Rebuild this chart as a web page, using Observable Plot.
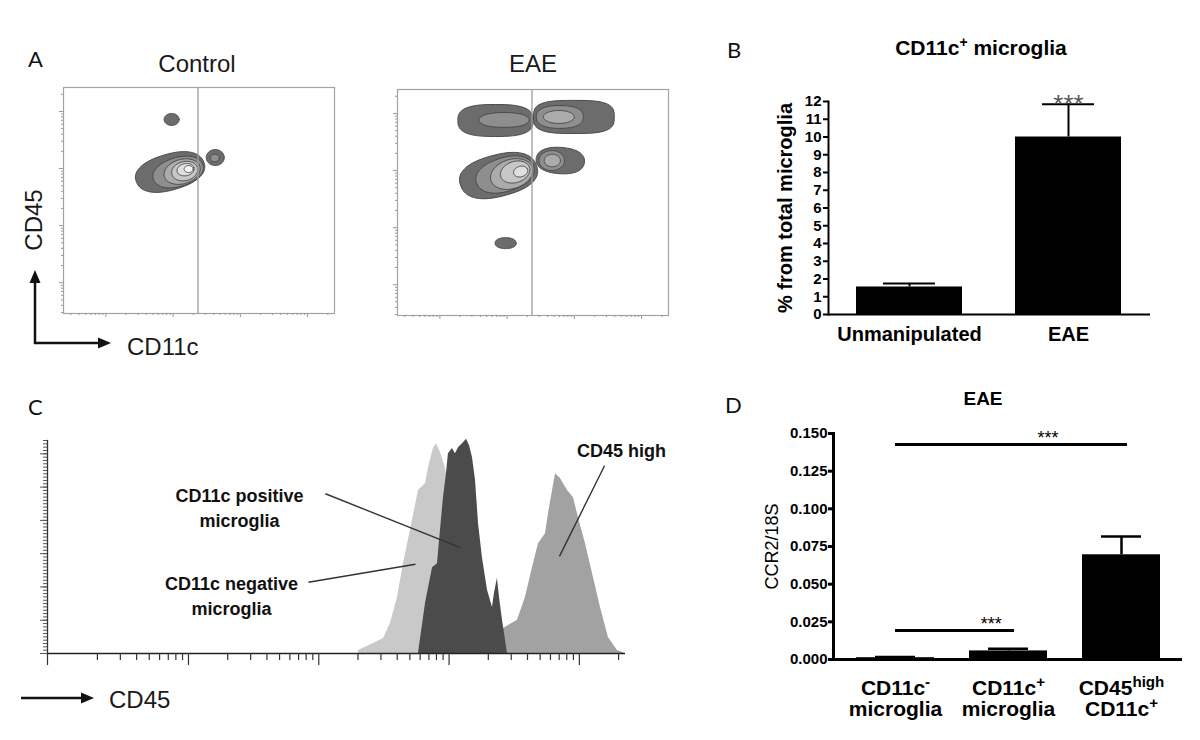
<!DOCTYPE html>
<html>
<head>
<meta charset="utf-8">
<script src="https://cdn.jsdelivr.net/npm/d3@7"></script>
<script src="https://cdn.jsdelivr.net/npm/@observablehq/plot@0.6"></script>
<style>
  body { margin: 0; background: #fff; }
  #fig { position: relative; width: 1200px; height: 740px; overflow: hidden; background: #fff; }
  .panel { position: absolute; }
  .panel svg { display: block; overflow: visible; }
  #overlay { position: absolute; left: 0; top: 0; }
</style>
</head>
<body>
<div id="fig">
  <svg id="overlay" width="1200" height="740" font-family="'Liberation Sans', Arial, sans-serif">
    <g font-family="Lato, 'Open Sans', sans-serif" font-size="22" fill="#111">
      <text x="28" y="67">A</text>
      <text x="727" y="58">B</text>
      <text x="28" y="415">C</text>
      <text x="725" y="413">D</text>
    </g>
    <g font-size="24" fill="#1a1a1a">
      <text x="197" y="72" text-anchor="middle">Control</text>
      <text x="533" y="72" text-anchor="middle">EAE</text>
      <text transform="translate(42,220) rotate(-90)" text-anchor="middle">CD45</text>
      <text x="127" y="355">CD11c</text>
      <text x="109" y="708">CD45</text>
    </g>
    <g stroke="#111" stroke-width="2.5" fill="#111">
      <line x1="35" y1="344" x2="35" y2="281"/>
      <polygon points="35,270 29.5,283 40.5,283" stroke="none"/>
      <line x1="34" y1="343" x2="99" y2="343"/>
      <polygon points="111,343 98,337.5 98,348.5" stroke="none"/>
      <line x1="21" y1="698" x2="82" y2="698"/>
      <polygon points="94,698 81,692.5 81,703.5" stroke="none"/>
    </g>
    <text x="981" y="55" text-anchor="middle" font-size="21" font-weight="bold">CD11c<tspan baseline-shift="super" font-size="14">+</tspan> microglia</text>
    <text x="983" y="405" text-anchor="middle" font-size="19" font-weight="bold">EAE</text>
  </svg>
  <div class="panel" id="pA1" style="left:50px;top:80px"></div>
  <div class="panel" id="pA2" style="left:384px;top:82px"></div>
  <div class="panel" id="pB" style="left:720px;top:85px"></div>
  <div class="panel" id="pC" style="left:0px;top:420px"></div>
  <div class="panel" id="pD" style="left:720px;top:420px"></div>
</div>
<script>
// ================= DATA =================
// Panel A: flow cytometry contour populations (axes in log10 fluorescence units)
const aXDomain = [0.37, 4.40];           // CD11c, log10 units
const aYDomain = [0.46, 4.42];           // CD45, log10 units
const aDecades = [1, 2, 3, 4];
const gateCD11c = 2.37;                  // vertical gate position (log10)
const contourLevels = [1, 2, 3, 4, 5, 6];

// p = superellipse exponent (2 = ellipse, larger = boxier)
const controlContours = [
  {pop: "upper", level: 1, cx: 1.978, cy: 3.860, rx: 0.112, ry: 0.105, angle: 0,  p: 2},
  {pop: "main",  level: 1, cx: 1.955, cy: 2.939, rx: 0.53,  ry: 0.31,  angle: 20, p: 2.3},
  {pop: "main",  level: 2, cx: 2.075, cy: 2.939, rx: 0.39,  ry: 0.25,  angle: 22, p: 2.1},
  {pop: "main",  level: 3, cx: 2.134, cy: 2.947, rx: 0.28,  ry: 0.21,  angle: 25, p: 2},
  {pop: "main",  level: 4, cx: 2.172, cy: 2.955, rx: 0.20,  ry: 0.165, angle: 25, p: 2},
  {pop: "main",  level: 5, cx: 2.185, cy: 2.980, rx: 0.13,  ry: 0.105, angle: 20, p: 2},
  {pop: "main",  level: 6, cx: 2.231, cy: 2.991, rx: 0.067, ry: 0.061, angle: 0,  p: 2},
  {pop: "sat",   level: 1, cx: 2.627, cy: 3.193, rx: 0.134, ry: 0.14,  angle: 0,  p: 2},
  {pop: "sat",   level: 2, cx: 2.620, cy: 3.185, rx: 0.067, ry: 0.065, angle: 0,  p: 2}
];

const eaeContours = [
  {pop: "topL",  level: 1, cx: 1.828, cy: 3.877, rx: 0.56,  ry: 0.28,  angle: 0,  p: 2.8},
  {pop: "topL",  level: 2, cx: 1.955, cy: 3.886, rx: 0.373, ry: 0.13,  angle: 0,  p: 2.2},
  {pop: "topR",  level: 1, cx: 2.993, cy: 3.939, rx: 0.60,  ry: 0.29,  angle: 0,  p: 3.2},
  {pop: "topR",  level: 2, cx: 2.784, cy: 3.939, rx: 0.35,  ry: 0.20,  angle: 0,  p: 2.4},
  {pop: "topR",  level: 3, cx: 2.769, cy: 3.939, rx: 0.23,  ry: 0.114, angle: 0,  p: 2},
  {pop: "mid",   level: 1, cx: 1.873, cy: 2.912, rx: 0.59,  ry: 0.36,  angle: 18, p: 2.4},
  {pop: "mid",   level: 2, cx: 1.970, cy: 2.930, rx: 0.45,  ry: 0.29,  angle: 22, p: 2.2},
  {pop: "mid",   level: 3, cx: 2.067, cy: 2.939, rx: 0.33,  ry: 0.25,  angle: 28, p: 2},
  {pop: "mid",   level: 4, cx: 2.119, cy: 2.974, rx: 0.23,  ry: 0.18,  angle: 30, p: 2},
  {pop: "mid",   level: 5, cx: 2.201, cy: 2.982, rx: 0.11,  ry: 0.09,  angle: 30, p: 2},
  {pop: "midR",  level: 1, cx: 2.791, cy: 3.175, rx: 0.36,  ry: 0.23,  angle: -5, p: 2.3},
  {pop: "midR",  level: 2, cx: 2.664, cy: 3.175, rx: 0.19,  ry: 0.175, angle: 0,  p: 2},
  {pop: "midR",  level: 3, cx: 2.672, cy: 3.175, rx: 0.12,  ry: 0.11,  angle: 0,  p: 2},
  {pop: "low",   level: 1, cx: 1.978, cy: 1.728, rx: 0.157, ry: 0.096, angle: 0,  p: 2.2}
];

// Panel B: CD11c+ microglia (% from total microglia)
const bCategories = ["Unmanipulated", "EAE"];
const bMeans = [1.55, 10.0];
const bErrorTop = [1.75, 11.85];
const bSignificance = ["", "***"];
const bTicks = [0, 1, 2, 3, 4, 5, 6, 7, 8, 9, 10, 11, 12];
const bYLabel = "% from total microglia";

// Panel C: CD45 histograms (x in log10 CD45, y counts)
const cXDomain = [-0.082, 4.354];
const cYDomain = [0, 320];
const cDecades = [0, 1, 2, 3, 4];
const cNegX     = [2.305, 2.305, 2.420, 2.497, 2.550, 2.604, 2.650, 2.704, 2.765, 2.819, 2.842, 2.880, 2.903, 2.934, 2.972, 3.011, 3.072, 3.134, 3.203, 3.279];
const cNegCount = [0,     4.5,   15,    22.5,  45,    84,    135,   185,   245,   255,   279,   308,   315,   302,   279,   230,   140,   65,    20,    0];
const cPosX     = [2.765, 2.819, 2.873, 2.911, 2.934, 2.957, 2.980, 2.995, 3.026, 3.049, 3.072, 3.103, 3.134, 3.157, 3.180, 3.203, 3.226, 3.256, 3.295, 3.333, 3.348, 3.371, 3.387, 3.410, 3.448];
const cPosCount = [0,     75,    129,   135,   185,   234,   270,   300,   308,   300,   309,   315,   322,   312,   294,   260,   195,   144,   95,    69,    90,    113,   84,    50,    0];
const cHighX     = [3.318, 3.395, 3.456, 3.525, 3.586, 3.640, 3.686, 3.740, 3.763, 3.794, 3.817, 3.855, 3.909, 3.955, 3.993, 4.047, 4.108, 4.162, 4.223, 4.292, 4.354];
const cHighCount = [0,     35,    42,    50,    84,    129,   165,   180,   210,   245,   270,   263,   245,   234,   204,   165,   114,   69,    24,    4.5,   0];
const cLabelText = ["CD11c positive\nmicroglia", "CD11c negative\nmicroglia", "CD45 high"];
const cLabelX = [1.391, 1.330, 4.323];
const cLabelY = [221.5, 88, 308];
const cPointerX1 = [2.051, 1.921, 4.193];
const cPointerY1 = [240, 107, 282];
const cPointerX2 = [3.087, 2.742, 3.847];
const cPointerY2 = [159, 134, 146];

// Panel D: CCR2/18S in EAE
const dCategories = ["CD11c- microglia", "CD11c+ microglia", "CD45high CD11c+"];
const dTickLabels = ["CD11c^-\nmicroglia", "CD11c^+\nmicroglia", "CD45^high\nCD11c^+"];
const dMeans = [0.0012, 0.0057, 0.0695];
const dErrorTop = [0.0017, 0.0071, 0.0816];
const dTicks = [0, 0.025, 0.05, 0.075, 0.1, 0.125, 0.15];
const dSigFrom = ["CD11c- microglia", "CD11c- microglia"];
const dSigTo = ["CD45high CD11c+", "CD11c+ microglia"];
const dSigY = [0.1427, 0.0192];
const dSigLabel = ["***", "***"];
const dYLabel = "CCR2/18S";

// ================= HELPERS =================
const FONT = "'Liberation Sans', Arial, sans-serif";
const levelColors = ["#6c6c6c", "#8e8e8e", "#ababab", "#c6c6c6", "#dfdfdf", "#f4f4f4"];

function contourPolygons(contours, n = 96) {
  const pts = [];
  contours.forEach((c, i) => {
    const a = c.angle * Math.PI / 180, e = 2 / (c.p || 2);
    for (let k = 0; k < n; k++) {
      const t = 2 * Math.PI * k / n, ct = Math.cos(t), st = Math.sin(t);
      const ex = c.rx * Math.sign(ct) * Math.abs(ct) ** e;
      const ey = c.ry * Math.sign(st) * Math.abs(st) ** e;
      pts.push({id: c.pop + i, level: c.level,
                x: c.cx + ex * Math.cos(a) - ey * Math.sin(a),
                y: c.cy + ex * Math.sin(a) + ey * Math.cos(a)});
    }
  });
  return d3.sort(pts, d => d.level);
}
function logTicks(decades, domain) {
  const out = [];
  for (const d of decades) for (let k = 2; k <= 9; k++) {
    const v = d + Math.log10(k);
    if (v >= domain[0] && v <= domain[1]) out.push(v);
  }
  return out;
}
function addSuperscripts(svg) {
  svg.querySelectorAll("text, tspan").forEach(el => {
    if (el.childNodes.length === 1 && el.firstChild.nodeType === 3 && el.textContent.includes("^")) {
      const [base, sup] = el.textContent.split("^");
      el.textContent = base;
      const t = document.createElementNS("http://www.w3.org/2000/svg", "tspan");
      t.setAttribute("baseline-shift", "super");
      t.setAttribute("font-size", "0.72em");
      t.textContent = sup;
      el.appendChild(t);
    }
  });
}

// ================= PANEL A =================
function flowPlot(contours) {
  const pts = contourPolygons(contours);
  const blank = () => "";
  return Plot.plot({
    width: 296, height: 245,
    marginLeft: 13, marginTop: 7, marginRight: 12, marginBottom: 12,
    x: {domain: aXDomain},
    y: {domain: aYDomain},
    color: {type: "ordinal", domain: contourLevels, range: levelColors},
    style: {fontFamily: FONT, background: "transparent", overflow: "visible"},
    marks: [
      Plot.line(pts, {x: "x", y: "y", z: "id", fill: "level", stroke: "#4a4a4a", strokeWidth: 1, curve: "linear-closed"}),
      Plot.ruleX([gateCD11c], {stroke: "#9c9c9c", strokeWidth: 1.3}),
      Plot.frame({stroke: "#a3a3a3", strokeWidth: 1.2}),
      Plot.axisX({ticks: logTicks([0, ...aDecades], aXDomain), tickSize: 2, tickFormat: blank, stroke: "#999", label: null}),
      Plot.axisX({ticks: aDecades, tickSize: 4, tickFormat: blank, stroke: "#999", label: null}),
      Plot.axisY({ticks: logTicks([0, ...aDecades], aYDomain), tickSize: 2, tickFormat: blank, stroke: "#999", label: null}),
      Plot.axisY({ticks: aDecades, tickSize: 4, tickFormat: blank, stroke: "#999", label: null})
    ]
  });
}
document.getElementById("pA1").append(flowPlot(controlContours));
document.getElementById("pA2").append(flowPlot(eaeContours));

// ================= PANEL B =================
const bTable = bCategories.map((g, i) => ({group: g, value: bMeans[i], err: bErrorTop[i], sig: bSignificance[i]}));
document.getElementById("pB").append(Plot.plot({
  width: 450, height: 275,
  marginLeft: 108, marginRight: 20, marginTop: 16, marginBottom: 46,
  x: {domain: bCategories, paddingInner: 0.331, paddingOuter: 0.172},
  y: {domain: [0, 12]},
  style: {fontFamily: FONT, background: "transparent", overflow: "visible", color: "#000"},
  marks: [
    Plot.ruleX(bTable, {x: "group", y1: "value", y2: "err", strokeWidth: 2}),
    Plot.tickY(bTable, {x: "group", y: "err", strokeWidth: 2, insetLeft: 27, insetRight: 27}),
    Plot.barY(bTable, {x: "group", y: "value", fill: "#000"}),
    Plot.ruleY([0], {strokeWidth: 2}),
    Plot.frame({anchor: "left", strokeWidth: 2}),
    Plot.axisY({ticks: bTicks, tickFormat: d => String(d), tickSize: 5, tickPadding: 2, fontSize: 15, fontWeight: "bold", strokeWidth: 2, label: null}),
    Plot.axisX({tickSize: 0, tickPadding: 12, fontSize: 20, fontWeight: "bold", label: null}),
    Plot.text([bYLabel], {frameAnchor: "left", textAnchor: "middle", dx: -43, rotate: -90, fontSize: 20, fontWeight: "bold"}),
    Plot.text(bTable, {x: "group", y: "err", text: "sig", dy: 1, fontSize: 26, fill: "#555"})
  ]
}));

// ================= PANEL C =================
const toRows = (xs, ys) => xs.map((x, i) => ({x, count: ys[i]}));
const cNeg = toRows(cNegX, cNegCount);
const cPos = toRows(cPosX, cPosCount);
const cHigh = toRows(cHighX, cHighCount);
const cLabels = cLabelText.map((t, i) => ({text: t, x: cLabelX[i], y: cLabelY[i]}));
const cPointers = cPointerX1.map((x1, i) => ({x1, y1: cPointerY1[i], x2: cPointerX2[i], y2: cPointerY2[i]}));
const cYMinor = d3.range(cYDomain[0], cYDomain[1] + 1, 5);
const cYMajor = d3.range(cYDomain[0], cYDomain[1] + 1, 50);
const blankC = () => "";
document.getElementById("pC").append(Plot.plot({
  width: 680, height: 262,
  marginLeft: 47, marginRight: 55, marginTop: 20, marginBottom: 29,
  x: {domain: cXDomain},
  y: {domain: cYDomain},
  style: {fontFamily: FONT, background: "transparent", overflow: "visible", color: "#000"},
  marks: [
    Plot.areaY(cNeg, {x: "x", y: "count", fill: "#c9c9c9"}),
    Plot.areaY(cHigh, {x: "x", y: "count", fill: "#a2a2a2"}),
    Plot.areaY(cPos, {x: "x", y: "count", fill: "#4b4b4b"}),
    Plot.ruleY([0], {stroke: "#222", strokeWidth: 1.5}),
    Plot.frame({anchor: "left", stroke: "#333", strokeWidth: 1.3}),
    Plot.axisX({ticks: logTicks(cDecades, cXDomain), tickSize: 7, tickFormat: blankC, stroke: "#333", strokeWidth: 1.2, label: null}),
    Plot.axisX({ticks: [cXDomain[0], ...cDecades.filter(d => d >= 1)], tickSize: 12, tickFormat: blankC, stroke: "#333", strokeWidth: 1.2, label: null}),
    Plot.axisY({ticks: cYMinor, tickSize: 4, tickFormat: blankC, stroke: "#555", label: null}),
    Plot.axisY({ticks: cYMajor, tickSize: 7, tickFormat: blankC, stroke: "#555", label: null}),
    Plot.link(cPointers, {x1: "x1", y1: "y1", x2: "x2", y2: "y2", stroke: "#333", strokeWidth: 1.4}),
    Plot.text(cLabels, {x: "x", y: "y", text: "text", fontSize: 18, fontWeight: "bold", lineHeight: 1.39, fill: "#111"})
  ]
}));

// ================= PANEL D =================
const dTable = dCategories.map((g, i) => ({group: g, value: dMeans[i], err: dErrorTop[i]}));
const dSig = dSigFrom.map((f, i) => ({from: f, to: dSigTo[i], y: dSigY[i], label: dSigLabel[i]}));
const dW = 470, dML = 113, dMR = 8, dPI = 0.313, dPO = 0.194;
const dStep = (dW - dML - dMR) / (dCategories.length - dPI + 2 * dPO);
const dBand = dStep * (1 - dPI);
const dSvg = Plot.plot({
  width: dW, height: 320,
  marginLeft: dML, marginRight: dMR, marginTop: 13, marginBottom: 81,
  x: {domain: dCategories, paddingInner: dPI, paddingOuter: dPO},
  y: {domain: [0, 0.15]},
  style: {fontFamily: FONT, background: "transparent", overflow: "visible", color: "#000"},
  marks: [
    Plot.ruleX(dTable, {x: "group", y1: "value", y2: "err", strokeWidth: 2.5}),
    Plot.tickY(dTable, {x: "group", y: "err", strokeWidth: 2.5, insetLeft: 19, insetRight: 19}),
    Plot.barY(dTable, {x: "group", y: "value", fill: "#000"}),
    Plot.ruleY([0], {strokeWidth: 3}),
    Plot.frame({anchor: "left", strokeWidth: 3}),
    Plot.axisY({ticks: dTicks, tickFormat: d3.format(".3f"), tickSize: 5, tickPadding: 1, fontSize: 15, fontWeight: "bold", strokeWidth: 3, label: null}),
    Plot.axisX({tickSize: 0, tickPadding: 20, fontSize: 21, fontWeight: "bold", lineHeight: 1.02, label: null,
                tickFormat: d => dTickLabels[dCategories.indexOf(d)]}),
    Plot.ruleY(dSig, {x1: "from", x2: "to", y: "y", insetLeft: dBand / 2, insetRight: dBand / 2 - 6, strokeWidth: 3}),
    ...dSig.map(s => Plot.text([s], {x: "from", y: "y", text: "label", fontSize: 18, dy: -6,
      dx: dBand / 2 + (dCategories.indexOf(s.to) - dCategories.indexOf(s.from)) * dStep / 2})),
    Plot.text([dYLabel], {frameAnchor: "left", textAnchor: "middle", dx: -61, rotate: -90, fontSize: 18})
  ]
});
addSuperscripts(dSvg);
document.getElementById("pD").append(dSvg);
</script>
</body>
</html>
